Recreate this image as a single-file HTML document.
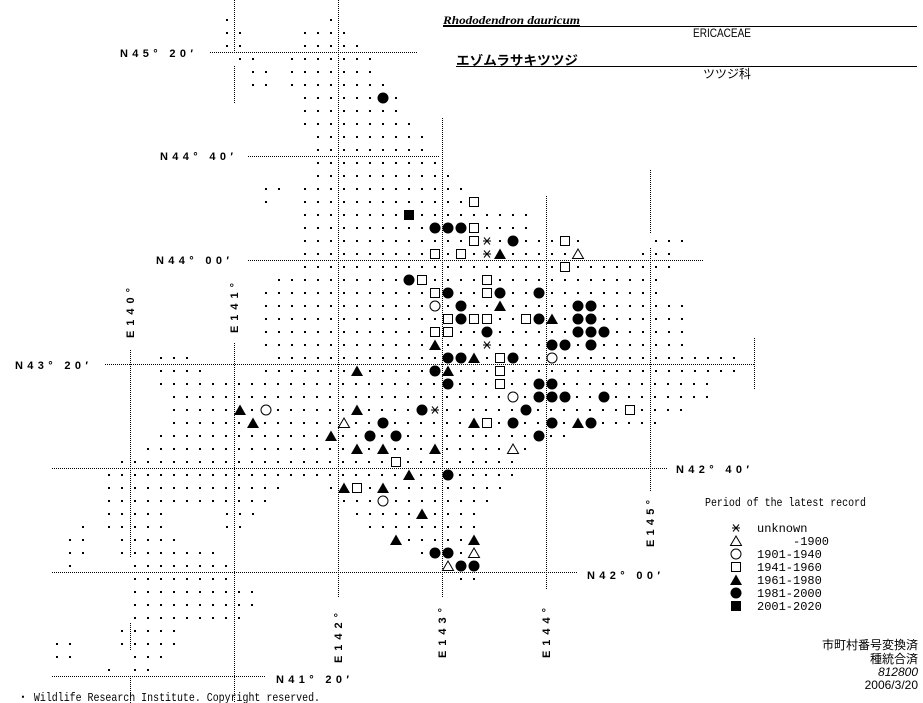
<!DOCTYPE html>
<html><head><meta charset="utf-8">
<style>
html,body{margin:0;padding:0;background:#fff;width:923px;height:703px;overflow:hidden}
svg{display:block}
.lab{font-family:"Liberation Sans",sans-serif;font-weight:bold;font-size:11px;fill:#000}
.lg{font-family:"Liberation Mono","DejaVu Sans Mono",monospace;font-size:12px;fill:#000}
.jp{font-family:"Liberation Sans","Noto Sans CJK JP",sans-serif;font-size:12px;fill:#000}
</style></head><body>
<svg id="s" width="923" height="703" viewBox="0 0 923 703" xmlns="http://www.w3.org/2000/svg">
<g stroke="#000" stroke-width="1" stroke-dasharray="1,1" fill="none">
<line x1="210" y1="52.5" x2="417" y2="52.5"/>
<line x1="248" y1="156.5" x2="440" y2="156.5"/>
<line x1="248" y1="260.5" x2="703" y2="260.5"/>
<line x1="105" y1="364.5" x2="755" y2="364.5"/>
<line x1="52" y1="468.5" x2="668" y2="468.5"/>
<line x1="52" y1="572.5" x2="578" y2="572.5"/>
<line x1="52" y1="676.5" x2="265" y2="676.5"/>
<line x1="234.5" y1="0" x2="234.5" y2="52"/>
<line x1="234.5" y1="66" x2="234.5" y2="104"/>
<line x1="234.5" y1="343" x2="234.5" y2="703"/>
<line x1="338.5" y1="0" x2="338.5" y2="598"/>
<line x1="130.5" y1="350" x2="130.5" y2="558"/>
<line x1="130.5" y1="623" x2="130.5" y2="650"/>
<line x1="130.5" y1="676" x2="130.5" y2="703"/>
<line x1="442.5" y1="118" x2="442.5" y2="598"/>
<line x1="546.5" y1="196" x2="546.5" y2="590"/>
<line x1="650.5" y1="170" x2="650.5" y2="234"/>
<line x1="650.5" y1="248" x2="650.5" y2="491"/>
<line x1="754.5" y1="338" x2="754.5" y2="390"/>
</g>
<g id="dots" fill="#000"></g>
<g id="syms"></g>
<g class="lab">
<text x="120" y="57" textLength="73" lengthAdjust="spacing">N45° 20′</text>
<text x="160" y="160" textLength="73" lengthAdjust="spacing">N44° 40′</text>
<text x="156" y="264" textLength="73" lengthAdjust="spacing">N44° 00′</text>
<text x="15" y="369" textLength="73" lengthAdjust="spacing">N43° 20′</text>
<text x="676" y="473" textLength="73" lengthAdjust="spacing">N42° 40′</text>
<text x="587" y="579" textLength="73" lengthAdjust="spacing">N42° 00′</text>
<text x="276" y="683" textLength="73" lengthAdjust="spacing">N41° 20′</text>
<text transform="translate(134,338) rotate(-90)" textLength="50" lengthAdjust="spacing">E140°</text>
<text transform="translate(238,333) rotate(-90)" textLength="50" lengthAdjust="spacing">E141°</text>
<text transform="translate(342,663) rotate(-90)" textLength="50" lengthAdjust="spacing">E142°</text>
<text transform="translate(446,658) rotate(-90)" textLength="50" lengthAdjust="spacing">E143°</text>
<text transform="translate(550,658) rotate(-90)" textLength="50" lengthAdjust="spacing">E144°</text>
<text transform="translate(654,547) rotate(-90)" textLength="47" lengthAdjust="spacing">E145°</text>
</g>
<text x="443" y="24" style="font-family:'Liberation Serif',serif;font-weight:bold;font-style:italic;font-size:12px" text-decoration="underline" textLength="137" lengthAdjust="spacingAndGlyphs">Rhododendron dauricum</text>
<line x1="443" y1="26.5" x2="917" y2="26.5" stroke="#000"/>
<text x="693" y="37" class="jp" textLength="58" lengthAdjust="spacingAndGlyphs">ERICACEAE</text>
<text x="456" y="65" class="jp" style="font-weight:bold;font-size:13px" textLength="122" lengthAdjust="spacingAndGlyphs">エゾムラサキツツジ</text>
<line x1="456" y1="66.5" x2="917" y2="66.5" stroke="#000"/>
<text x="703" y="78" class="jp" textLength="48" lengthAdjust="spacingAndGlyphs">ツツジ科</text>
<text x="705" y="506" class="lg" textLength="161" lengthAdjust="spacingAndGlyphs">Period of the latest record</text>
<g class="lg">
<text x="757" y="532">unknown</text>
<text x="757" y="545" xml:space="preserve">     -1900</text>
<text x="757" y="558">1901-1940</text>
<text x="757" y="571">1941-1960</text>
<text x="757" y="584">1961-1980</text>
<text x="757" y="597">1981-2000</text>
<text x="757" y="610">2001-2020</text>
</g>
<g class="jp" text-anchor="end">
<text x="918" y="649">市町村番号変換済</text>
<text x="918" y="663">種統合済</text>
<text x="918" y="676" style="font-style:italic">812800</text>
<text x="918" y="689">2006/3/20</text>
</g>
<text x="18" y="701" class="lg" textLength="302" lengthAdjust="spacingAndGlyphs">・ Wildlife Research Institute. Copyright reserved.</text>
</svg>
<script>
var rows={20:[[227,227],[331,331]],33:[[227,240],[305,344]],46:[[227,240],[305,357]],59:[[240,253],[292,370]],72:[[253,266],[292,370]],85:[[253,266],[292,383]],98:[[305,396]],111:[[305,396]],124:[[305,409]],137:[[318,422]],150:[[318,422]],163:[[318,435]],176:[[318,448]],189:[[266,279],[305,461]],202:[[266,266],[305,474]],215:[[305,526]],228:[[305,526]],241:[[305,578],[656,682]],254:[[305,578],[643,669]],267:[[305,669]],280:[[279,656]],293:[[266,656]],306:[[266,682]],319:[[266,682]],332:[[266,682]],345:[[266,682]],358:[[161,187],[279,734]],371:[[161,200],[266,734]],384:[[161,708]],397:[[174,708]],410:[[174,682]],423:[[174,655]],436:[[161,565]],449:[[148,526]],462:[[122,513]],475:[[109,513]],488:[[109,279],[331,500]],501:[[109,266],[344,487]],514:[[109,162],[227,253],[357,474]],527:[[83,83],[109,162],[227,240],[370,474]],540:[[70,83],[122,174],[396,474]],553:[[70,83],[122,213],[422,474]],566:[[70,70],[135,226],[448,474]],579:[[135,226],[461,474]],592:[[135,252]],605:[[135,252]],618:[[135,240]],631:[[122,174]],644:[[57,70],[122,174]],657:[[57,70],[135,161]],670:[[109,109],[135,148]]};
var NS="http://www.w3.org/2000/svg",d=document.getElementById('dots'),h='';
for(var y in rows){rows[y].forEach(function(r){for(var x=r[0];x<=r[1]+1;x+=13){h+='<rect x="'+(x-1)+'" y="'+(y-1)+'" width="2" height="2"/>';}});}
d.innerHTML=h;
var S=[[383,98,'c'],[409,215,'S'],[435,228,'c'],[448,228,'c'],[461,228,'c'],[474,228,'s'],[474,202,'s'],
[474,241,'s'],[487,241,'a'],[513,241,'c'],[565,241,'s'],[435,254,'s'],[461,254,'s'],[487,254,'a'],[500,254,'t'],[578,254,'T'],
[565,267,'s'],[409,280,'c'],[422,280,'s'],[487,280,'s'],[435,293,'s'],[448,293,'c'],[487,293,'s'],[500,293,'c'],[539,293,'c'],
[435,306,'o'],[461,306,'c'],[500,306,'t'],[578,306,'c'],[591,306,'c'],
[448,319,'s'],[461,319,'c'],[474,319,'s'],[487,319,'s'],[526,319,'s'],[539,319,'c'],[552,319,'t'],[578,319,'c'],[591,319,'c'],
[435,332,'s'],[448,332,'s'],[487,332,'c'],[578,332,'c'],[591,332,'c'],[604,332,'c'],
[435,345,'t'],[487,345,'a'],[552,345,'c'],[565,345,'c'],[591,345,'c'],
[448,358,'c'],[461,358,'c'],[474,358,'t'],[500,358,'s'],[513,358,'c'],[552,358,'o'],
[357,371,'t'],[435,371,'c'],[448,371,'t'],[500,371,'s'],
[448,384,'c'],[500,384,'s'],[539,384,'c'],[552,384,'c'],
[513,397,'o'],[539,397,'c'],[552,397,'c'],[565,397,'c'],[604,397,'c'],
[240,410,'t'],[266,410,'o'],[357,410,'t'],[422,410,'c'],[435,410,'a'],[526,410,'c'],[630,410,'s'],
[253,423,'t'],[344,423,'T'],[383,423,'c'],[474,423,'t'],[487,423,'s'],[513,423,'c'],[552,423,'c'],[578,423,'t'],[591,423,'c'],
[331,436,'t'],[370,436,'c'],[396,436,'c'],[539,436,'c'],
[357,449,'t'],[383,449,'t'],[435,449,'t'],[513,449,'T'],
[396,462,'s'],[409,475,'t'],[448,475,'c'],
[344,488,'t'],[357,488,'s'],[383,488,'t'],[383,501,'o'],[422,514,'t'],
[396,540,'t'],[474,540,'t'],[435,553,'c'],[448,553,'c'],[474,553,'T'],[448,566,'T'],[461,566,'c'],[474,566,'c'],
[736,528,'a'],[736,541,'T'],[736,554,'o'],[736,567,'s'],[736,580,'t'],[736,593,'c'],[736,606,'S']];
function sym(x,y,t){
 if(t=='c')return '<circle cx="'+x+'" cy="'+y+'" r="5.5" fill="#000"/>';
 if(t=='o')return '<circle cx="'+x+'" cy="'+y+'" r="5" fill="#fff" stroke="#000"/>';
 if(t=='s')return '<rect x="'+(x-4.5)+'" y="'+(y-4.5)+'" width="9" height="9" fill="#fff" stroke="#000"/>';
 if(t=='S')return '<rect x="'+(x-5)+'" y="'+(y-5)+'" width="10" height="10" fill="#000"/>';
 if(t=='t')return '<polygon points="'+x+','+(y-5.5)+' '+(x+6)+','+(y+5)+' '+(x-6)+','+(y+5)+'" fill="#000"/>';
 if(t=='T')return '<polygon points="'+x+','+(y-5)+' '+(x+5.5)+','+(y+4.5)+' '+(x-5.5)+','+(y+4.5)+'" fill="#fff" stroke="#000"/>';
 if(t=='a')return '<rect x="'+(x-5)+'" y="'+(y-5)+'" width="10" height="10" fill="#fff"/><g stroke="#000"><line x1="'+(x-4)+'" y1="'+y+'" x2="'+(x+4)+'" y2="'+y+'"/><line x1="'+(x-3)+'" y1="'+(y-3.5)+'" x2="'+(x+3)+'" y2="'+(y+3.5)+'"/><line x1="'+(x-3)+'" y1="'+(y+3.5)+'" x2="'+(x+3)+'" y2="'+(y-3.5)+'"/></g>';
}
var g='';S.forEach(function(s){g+=sym(s[0],s[1],s[2]);});
document.getElementById('syms').innerHTML=g;
</script>
</body></html>
